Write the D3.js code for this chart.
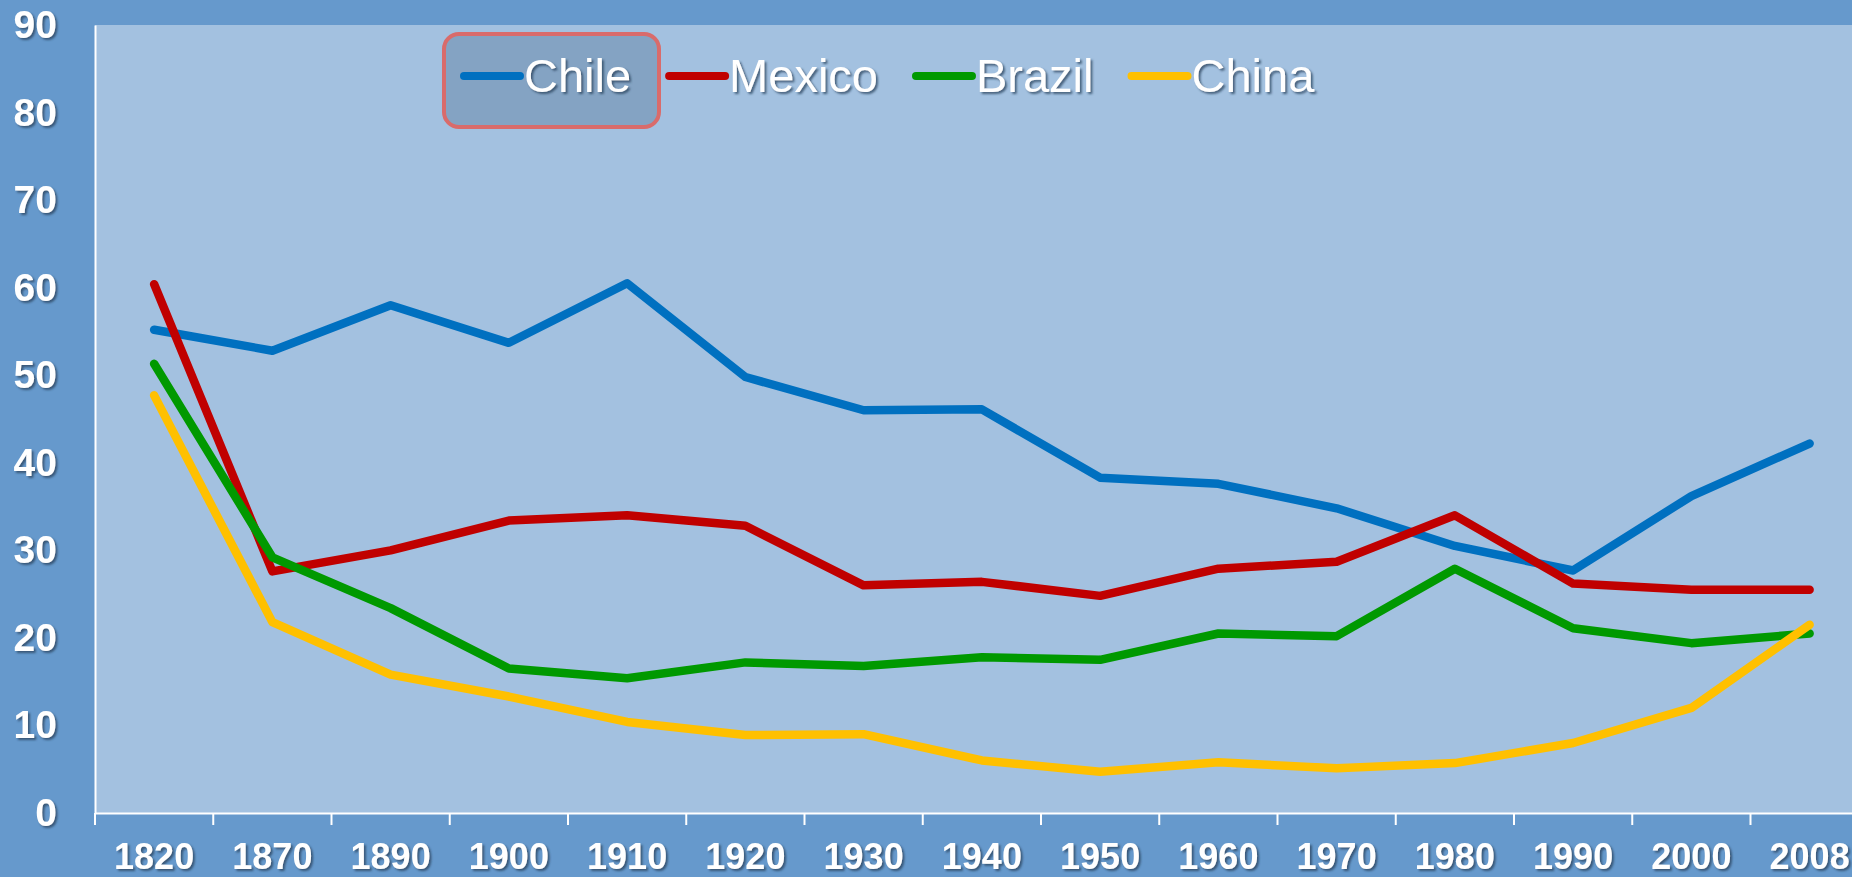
<!DOCTYPE html>
<html>
<head>
<meta charset="utf-8">
<script src="https://cdn.jsdelivr.net/npm/d3@7"></script>
<style>
  html, body { margin: 0; padding: 0; background: #6699CC; overflow: hidden; }
  svg { display: block; }
</style>
</head>
<body>
<svg id="chart" width="1852" height="877"></svg>
<script>
// Categories (years) and one value array per country
const years  = ["1820","1870","1890","1900","1910","1920","1930","1940","1950","1960","1970","1980","1990","2000","2008"];
const chile  = [55.2, 52.8, 58.0, 53.7, 60.5, 49.8, 46.0, 46.1, 38.3, 37.6, 34.8, 30.5, 27.7, 36.2, 42.2];
const mexico = [60.4, 27.6, 30.0, 33.4, 34.0, 32.8, 26.0, 26.4, 24.8, 27.9, 28.7, 34.0, 26.2, 25.5, 25.5];
const brazil = [51.3, 29.2, 23.4, 16.5, 15.4, 17.2, 16.8, 17.8, 17.5, 20.5, 20.2, 27.9, 21.1, 19.4, 20.5];
const china  = [47.7, 21.8, 15.8, 13.3, 10.4,  8.9,  9.0,  6.0,  4.7,  5.8,  5.1,  5.7,  8.0, 12.0, 21.5];
const yTicks = [0, 10, 20, 30, 40, 50, 60, 70, 80, 90];

const seriesNames  = ["Chile", "Mexico", "Brazil", "China"];
const seriesValues = [chile, mexico, brazil, china];
const seriesColors = ["#0070C0", "#C00000", "#009900", "#FFC000"];

const W = 1852, H = 877;
const plot = { left: 95, top: 25, bottom: 813, step: 118.25 };
const FONT = "'Liberation Sans', Arial, sans-serif";

const svg = d3.select("#chart");
const defs = svg.append("defs");
const shadow = defs.append("filter").attr("id", "txtShadow")
  .attr("x", "-20%").attr("y", "-20%").attr("width", "140%").attr("height", "140%");
shadow.append("feDropShadow")
  .attr("dx", 2).attr("dy", 2).attr("stdDeviation", 1.1)
  .attr("flood-color", "#2b3f5c").attr("flood-opacity", 0.75);

// Background
svg.append("rect").attr("width", W).attr("height", H).attr("fill", "#6699CC");

const x = d3.scaleBand()
  .domain(years)
  .range([plot.left, plot.left + plot.step * years.length])
  .padding(0);
const y = d3.scaleLinear().domain([0, 90]).range([plot.bottom, plot.top]);
const bw = x.bandwidth();

// Plot area
svg.append("rect")
  .attr("x", plot.left).attr("y", plot.top)
  .attr("width", x.range()[1] - plot.left)
  .attr("height", plot.bottom - plot.top)
  .attr("fill", "#A3C1E0");

// Y axis: labels only, plus a white spine
const yAxis = svg.append("g")
  .attr("transform", `translate(${plot.left},0)`)
  .call(d3.axisLeft(y).tickValues(yTicks).tickSize(0).tickPadding(38).tickFormat(d3.format("d")));
yAxis.select(".domain").attr("stroke", "#ffffff").attr("stroke-width", 2);
yAxis.selectAll("text")
  .attr("fill", "#ffffff")
  .attr("font-family", FONT)
  .attr("font-weight", "bold")
  .attr("font-size", 39)
  .attr("filter", "url(#txtShadow)");

// X axis: tick marks on category boundaries, labels centred in each band
const xAxis = svg.append("g")
  .attr("transform", `translate(0,${plot.bottom})`)
  .call(d3.axisBottom(x).tickSize(12).tickPadding(18).tickSizeOuter(0));
xAxis.select(".domain").attr("stroke", "#ffffff").attr("stroke-width", 2);
xAxis.selectAll(".tick line")
  .attr("x1", -bw / 2).attr("x2", -bw / 2)
  .attr("stroke", "#ffffff").attr("stroke-width", 2);
xAxis.selectAll("text")
  .attr("fill", "#ffffff")
  .attr("font-family", FONT)
  .attr("font-weight", "bold")
  .attr("font-size", 36)
  .attr("filter", "url(#txtShadow)");

// Series lines
const line = d3.line()
  .x((d, i) => x(years[i]) + bw / 2)
  .y(d => y(d));

svg.append("g").selectAll("path")
  .data(seriesValues)
  .join("path")
  .attr("d", d => line(d))
  .attr("fill", "none")
  .attr("stroke", (d, i) => seriesColors[i])
  .attr("stroke-width", 8.5)
  .attr("stroke-linecap", "round")
  .attr("stroke-linejoin", "round");

// Legend
const legend = svg.append("g");
legend.append("rect")
  .attr("x", 444).attr("y", 34).attr("width", 215).attr("height", 93)
  .attr("rx", 15).attr("ry", 15)
  .attr("fill", "#84A3C3")
  .attr("stroke", "#D96B6B").attr("stroke-width", 4);

let lx = 464;
const ly = 76;
seriesNames.forEach((name, i) => {
  legend.append("line")
    .attr("x1", lx).attr("x2", lx + 56)
    .attr("y1", ly).attr("y2", ly)
    .attr("stroke", seriesColors[i]).attr("stroke-width", 8)
    .attr("stroke-linecap", "round");
  const t = legend.append("text")
    .attr("x", lx + 60).attr("y", ly + 16)
    .attr("fill", "#ffffff")
    .attr("font-family", FONT)
    .attr("font-size", 47)
    .attr("filter", "url(#txtShadow)")
    .text(name);
  lx += 60 + t.node().getComputedTextLength() + 38;
});
</script>
</body>
</html>
